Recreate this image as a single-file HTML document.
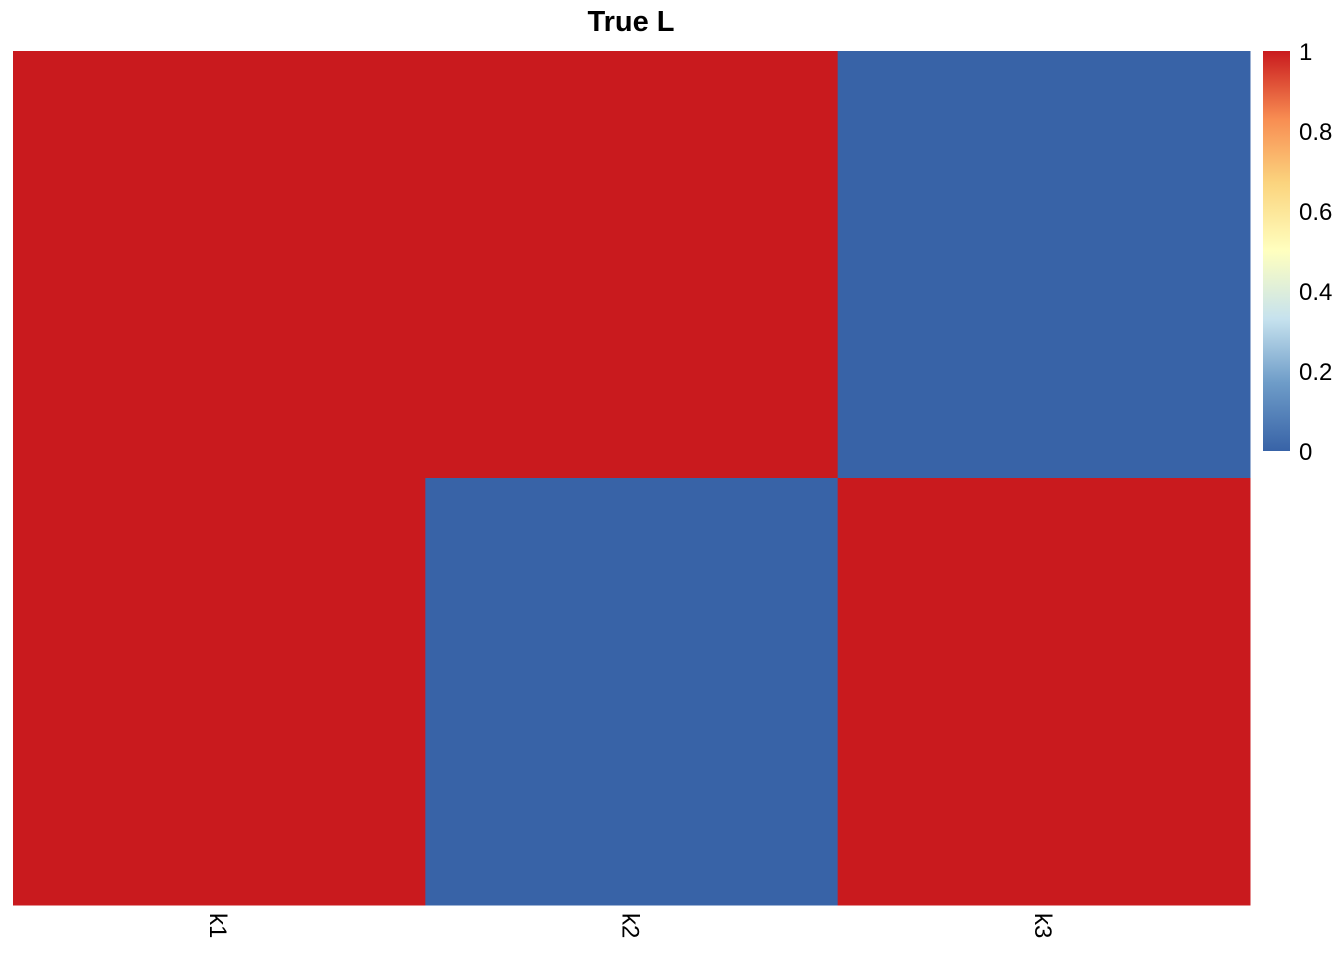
<!DOCTYPE html>
<html><head><meta charset="utf-8"><style>
html,body{margin:0;padding:0;background:#fff;}
svg{display:block;font-family:"Liberation Sans",Arial,sans-serif;}
</style></head><body>
<svg id="chart" width="1344" height="960">
<defs>
<linearGradient id="grad" x1="0" y1="1" x2="0" y2="0">
<stop offset="0" stop-color="#3863A7"/>
<stop offset="0.17" stop-color="#6E9CC8"/>
<stop offset="0.33" stop-color="#C6E2EE"/>
<stop offset="0.5" stop-color="#FFFFBF"/>
<stop offset="0.67" stop-color="#FBD47E"/>
<stop offset="0.83" stop-color="#F88D52"/>
<stop offset="1" stop-color="#C91A1E"/>
</linearGradient>
</defs>
<text x="631" y="31" text-anchor="middle" font-size="29" font-weight="bold" fill="#000">True L</text>
<g id="cells"></g>
<g id="xlabels"></g>
<rect x="1263" y="51" width="27" height="400" fill="url(#grad)"/>
<g id="legend"></g>
</svg>
<script>
const columns = ["k1","k2","k3"];
const row1 = [1,1,0];
const row2 = [1,0,1];
const legendTicks = [0,0.2,0.4,0.6,0.8,1];
const legendTickLabels = ["0","0.2","0.4","0.6","0.8","1"];

const rows = [row1,row2];
const NS = "http://www.w3.org/2000/svg";
const X0=13, X1=1250, Y0=51, Y1=905;
const cw=(X1-X0)/columns.length, rh=(Y1-Y0)/rows.length;
const xPos = i => X0 + i*cw;
const yPos = j => Y0 + j*rh;
function color(v){ return v>=0.5 ? "#C91A1E" : "#3863A7"; }
function mk(t){ return document.createElementNS(NS,t); }
const cells=document.getElementById("cells");
rows.forEach((r,j)=>r.forEach((v,i)=>{
  const el=mk("rect");
  
  
  el.setAttribute("x",xPos(i)); el.setAttribute("y",yPos(j));
  el.setAttribute("width",cw+0.5); el.setAttribute("height",rh+0.5);
  el.setAttribute("fill",color(v));
  cells.appendChild(el);
}));
const xl=document.getElementById("xlabels");
columns.forEach((c,i)=>{
  const el=mk("text");
  
  
  const cx=xPos(i)+cw/2, cy=913;
  el.setAttribute("transform","translate("+(cx-9)+","+cy+") rotate(90)");
  el.setAttribute("font-size","24");
  el.textContent=c;
  xl.appendChild(el);
});
const lg=document.getElementById("legend");
const ly = v => 451 - v*400;
legendTicks.forEach((v,k)=>{
  const el=mk("text");
  
  
  el.setAttribute("x",1299); el.setAttribute("y",ly(v)+9);
  el.setAttribute("font-size","24");
  el.textContent=legendTickLabels[k];
  lg.appendChild(el);
});
</script>
</body></html>
